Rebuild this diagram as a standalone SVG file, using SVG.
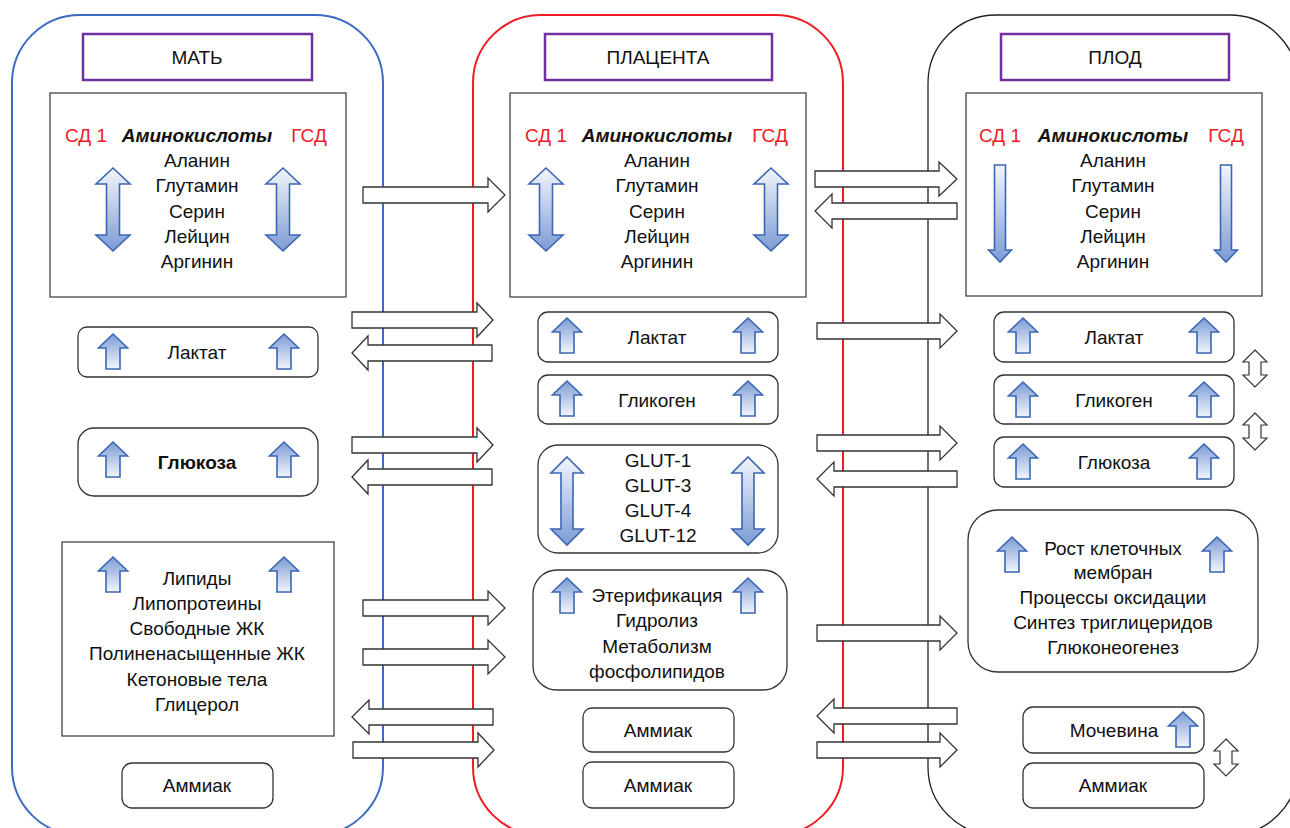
<svg xmlns="http://www.w3.org/2000/svg" width="1290" height="828" viewBox="0 0 1290 828">
<style>
text{font-family:"Liberation Sans",Arial,sans-serif;font-size:19px;fill:#111;text-anchor:middle}
.red{fill:#ee1c25}
.bi{font-weight:bold;font-style:italic}
.b{font-weight:bold}
.box{fill:#fff;stroke:#444;stroke-width:1.3}
.rbox{fill:#fff;stroke:#333;stroke-width:1.3}
.title{fill:#fff;stroke:#7030a0;stroke-width:2.5}
.blk{fill:#fff;stroke:#333;stroke-width:1.3;stroke-linejoin:miter}
</style>
<defs>
<linearGradient id="gUp" x1="0" y1="0" x2="0" y2="1">
<stop offset="0" stop-color="#7c9bd4"/><stop offset="1" stop-color="#f3f6fc"/>
</linearGradient>
<linearGradient id="gDn" x1="0" y1="0" x2="0" y2="1">
<stop offset="0" stop-color="#f3f6fc"/><stop offset="1" stop-color="#7c9bd4"/>
</linearGradient>
<path id="up" d="M0,0 L14.5,14 L7,14 L7,35 L-7,35 L-7,14 L-14.5,14 Z" fill="url(#gUp)" stroke="#3a66b4" stroke-width="1.6"/>
<path id="dbl" d="M0,0 L17,16 L6.5,16 L6.5,67 L17,67 L0,83 L-17,67 L-6.5,67 L-6.5,16 L-17,16 Z" fill="url(#gDn)" stroke="#3a66b4" stroke-width="1.6"/>
<path id="dbl2" d="M0,0 L16,16 L6,16 L6,72 L16,72 L0,88 L-16,72 L-6,72 L-6,16 L-16,16 Z" fill="url(#gDn)" stroke="#3a66b4" stroke-width="1.6"/>
<path id="dn" d="M-5.5,0 L5.5,0 L5.5,85 L11.5,85 L0,97 L-11.5,85 L-5.5,85 Z" fill="url(#gDn)" stroke="#3a66b4" stroke-width="1.6"/>
<path id="odbl" d="M0,0 L12,12 L6,12 L6,25 L12,25 L0,37 L-12,25 L-6,25 L-6,12 L-12,12 Z" fill="#fff" stroke="#333" stroke-width="1.2"/>
</defs>

<g id="containers">
<rect id="mother" x="12" y="15" width="371" height="820" rx="68" fill="none" stroke="#3c6bbf" stroke-width="2"/>
<rect id="placenta" x="473" y="15" width="370" height="820" rx="68" fill="none" stroke="#ee1c25" stroke-width="2"/>
<rect id="fetus" x="928" y="15" width="370" height="820" rx="68" fill="none" stroke="#222" stroke-width="1.3"/>
</g>

<g id="title-mother"><rect class="title" x="83" y="34" width="229" height="46"/><text x="197" y="64">МАТЬ</text></g>
<g id="title-placenta"><rect class="title" x="545" y="34" width="227" height="46"/><text x="658" y="64">ПЛАЦЕНТА</text></g>
<g id="title-fetus"><rect class="title" x="1001" y="34" width="228" height="46"/><text x="1115" y="64">ПЛОД</text></g>

<g id="amino-mother">
<rect class="box" x="50" y="93" width="296" height="204"/>
<text class="red" x="86" y="142">СД 1</text>
<text class="bi" x="197" y="142">Аминокислоты</text>
<text class="red" x="309" y="142">ГСД</text>
<text x="197" y="167">Аланин</text><text x="197" y="192">Глутамин</text><text x="197" y="218">Серин</text><text x="197" y="243">Лейцин</text><text x="197" y="268">Аргинин</text>
<use href="#dbl" x="113" y="168"/><use href="#dbl" x="283" y="168"/>
</g>
<g id="amino-placenta">
<rect class="box" x="510" y="93" width="296" height="204"/>
<text class="red" x="546" y="142">СД 1</text>
<text class="bi" x="657" y="142">Аминокислоты</text>
<text class="red" x="770" y="142">ГСД</text>
<text x="657" y="167">Аланин</text><text x="657" y="192">Глутамин</text><text x="657" y="218">Серин</text><text x="657" y="243">Лейцин</text><text x="657" y="268">Аргинин</text>
<use href="#dbl" x="546" y="168"/><use href="#dbl" x="771" y="168"/>
</g>
<g id="amino-fetus">
<rect class="box" x="966" y="93" width="296" height="203"/>
<text class="red" x="1000" y="142">СД 1</text>
<text class="bi" x="1113" y="142">Аминокислоты</text>
<text class="red" x="1226" y="142">ГСД</text>
<text x="1113" y="167">Аланин</text><text x="1113" y="192">Глутамин</text><text x="1113" y="218">Серин</text><text x="1113" y="243">Лейцин</text><text x="1113" y="268">Аргинин</text>
<use href="#dn" x="1000" y="165"/><use href="#dn" x="1226" y="165"/>
</g>

<g id="lactate-mother">
<rect class="rbox" x="78" y="327" width="240" height="50" rx="9"/>
<text x="197" y="359">Лактат</text>
<use href="#up" x="113" y="334"/><use href="#up" x="284" y="334"/>
</g>
<g id="glucose-mother">
<rect class="rbox" x="78" y="428" width="240" height="68" rx="16"/>
<text class="b" x="197" y="469">Глюкоза</text>
<use href="#up" x="113" y="442"/><use href="#up" x="284" y="442"/>
</g>
<g id="lipids-mother">
<rect class="box" x="62" y="542" width="272" height="194"/>
<use href="#up" x="113" y="557"/><use href="#up" x="284" y="557"/>
<text x="197" y="585">Липиды</text>
<text x="197" y="610">Липопротеины</text>
<text x="197" y="635">Свободные ЖК</text>
<text x="197" y="660">Полиненасыщенные ЖК</text>
<text x="197" y="686">Кетоновые тела</text>
<text x="197" y="711">Глицерол</text>
</g>
<g id="ammonia-mother">
<rect class="rbox" x="122" y="763" width="151" height="45" rx="10"/>
<text x="197" y="792">Аммиак</text>
</g>

<g id="lactate-placenta">
<rect class="rbox" x="538" y="312" width="240" height="50" rx="10"/>
<text x="657" y="344">Лактат</text>
<use href="#up" x="567" y="318"/><use href="#up" x="748" y="318"/>
</g>
<g id="glycogen-placenta">
<rect class="rbox" x="538" y="375" width="240" height="49" rx="10"/>
<text x="657" y="407">Гликоген</text>
<use href="#up" x="567" y="381"/><use href="#up" x="748" y="381"/>
</g>
<g id="glut-placenta">
<rect class="rbox" x="538" y="445" width="240" height="108" rx="20"/>
<text x="658" y="467">GLUT-1</text>
<text x="658" y="492">GLUT-3</text>
<text x="658" y="517">GLUT-4</text>
<text x="658" y="542">GLUT-12</text>
<use href="#dbl2" x="567" y="457"/><use href="#dbl2" x="748" y="457"/>
</g>
<g id="lipid-placenta">
<rect class="rbox" x="533" y="570" width="254" height="120" rx="24"/>
<use href="#up" x="567" y="578"/><use href="#up" x="748" y="578"/>
<text x="657" y="602">Этерификация</text>
<text x="657" y="627">Гидролиз</text>
<text x="657" y="653">Метаболизм</text>
<text x="657" y="678">фосфолипидов</text>
</g>
<g id="ammonia1-placenta">
<rect class="rbox" x="583" y="708" width="151" height="44" rx="9"/>
<text x="658" y="737">Аммиак</text>
</g>
<g id="ammonia2-placenta">
<rect class="rbox" x="583" y="762" width="151" height="46" rx="9"/>
<text x="658" y="792">Аммиак</text>
</g>

<g id="lactate-fetus">
<rect class="rbox" x="994" y="312" width="240" height="50" rx="10"/>
<text x="1114" y="344">Лактат</text>
<use href="#up" x="1023" y="318"/><use href="#up" x="1204" y="318"/>
</g>
<g id="glycogen-fetus">
<rect class="rbox" x="994" y="375" width="240" height="49" rx="10"/>
<text x="1114" y="407">Гликоген</text>
<use href="#up" x="1023" y="382"/><use href="#up" x="1204" y="382"/>
</g>
<g id="glucose-fetus">
<rect class="rbox" x="994" y="437" width="240" height="50" rx="10"/>
<text x="1114" y="469">Глюкоза</text>
<use href="#up" x="1023" y="444"/><use href="#up" x="1204" y="444"/>
</g>
<g id="processes-fetus">
<rect class="rbox" x="968" y="510" width="290" height="162" rx="30"/>
<use href="#up" x="1012" y="537"/><use href="#up" x="1217" y="537"/>
<text x="1113" y="555">Рост клеточных</text>
<text x="1113" y="579">мембран</text>
<text x="1113" y="604">Процессы оксидации</text>
<text x="1113" y="629">Синтез триглицеридов</text>
<text x="1113" y="654">Глюконеогенез</text>
</g>
<g id="urea-fetus">
<rect class="rbox" x="1023" y="707" width="181" height="46" rx="10"/>
<text x="1114" y="737">Мочевина</text>
<use href="#up" x="1183" y="712"/>
</g>
<g id="ammonia-fetus">
<rect class="rbox" x="1023" y="763" width="181" height="45" rx="10"/>
<text x="1113" y="792">Аммиак</text>
</g>
<g id="exchange-arrows-fetus">
<use href="#odbl" x="1255" y="350"/>
<use href="#odbl" x="1255" y="413"/>
<use href="#odbl" x="1226" y="739"/>
</g>

<g id="connectors">
<path class="blk" d="M363 187 H488 V178 L505 195 L488 212 V203 H363 Z"/>
<path class="blk" d="M352 312 H477 V303 L493 320 L477 337 V328 H352 Z"/>
<path class="blk" d="M492 345 H368 V336 L352 353 L368 370 V361 H492 Z"/>
<path class="blk" d="M352 437 H477 V428 L493 445 L477 462 V453 H352 Z"/>
<path class="blk" d="M492 469 H368 V460 L352 477 L368 494 V485 H492 Z"/>
<path class="blk" d="M363 600 H488 V591 L505 608 L488 625 V616 H363 Z"/>
<path class="blk" d="M363 649 H488 V640 L505 657 L488 674 V665 H363 Z"/>
<path class="blk" d="M493 709 H369 V700 L352 717 L369 734 V725 H493 Z"/>
<path class="blk" d="M353 742 H478 V733 L494 750 L478 767 V758 H353 Z"/>
<path class="blk" d="M815 171 H939 V162 L957 179 L939 196 V187 H815 Z"/>
<path class="blk" d="M957 203 H832 V194 L815 211 L832 228 V219 H957 Z"/>
<path class="blk" d="M817 323 H940 V314 L957 331 L940 348 V339 H817 Z"/>
<path class="blk" d="M817 435 H940 V426 L957 443 L940 460 V451 H817 Z"/>
<path class="blk" d="M957 471 H834 V462 L817 479 L834 496 V487 H957 Z"/>
<path class="blk" d="M817 625 H940 V616 L957 633 L940 650 V641 H817 Z"/>
<path class="blk" d="M957 708 H834 V699 L817 716 L834 733 V724 H957 Z"/>
<path class="blk" d="M817 742 H940 V733 L957 750 L940 767 V758 H817 Z"/>
</g>
</svg>
